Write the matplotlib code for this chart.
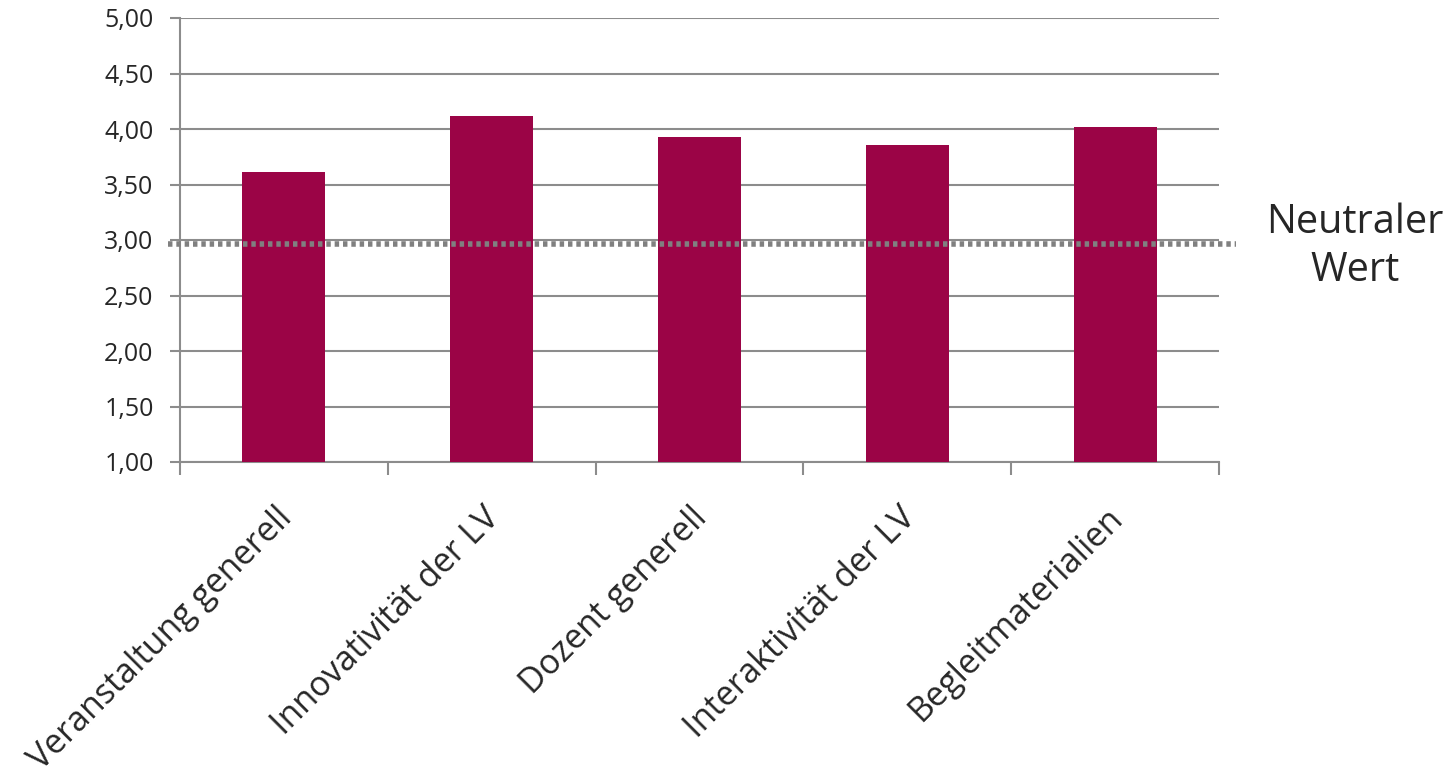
import matplotlib
matplotlib.use("Agg")
import matplotlib.pyplot as plt
import matplotlib.transforms as mtransforms
import numpy as np

categories = [
    "Veranstaltung generell",
    "Innovativität der LV",
    "Dozent generell",
    "Interaktivität der LV",
    "Begleitmaterialien",
]
values = [3.61, 4.12, 3.93, 3.86, 4.02]
neutral_value = 2.96
y_ticks = [1.0, 1.5, 2.0, 2.5, 3.0, 3.5, 4.0, 4.5, 5.0]

BAR_COLOR = "#9B0446"
GRID_COLOR = "#8C8C8C"
TEXT_COLOR = "#262626"

plt.rcParams["font.family"] = ["Open Sans", "DejaVu Sans"]

fig = plt.figure(figsize=(14.54, 7.74), dpi=100)
ax = fig.add_axes([180 / 1454, 1 - 462 / 774, (1219 - 180) / 1454, (462 - 18) / 774])

x = np.arange(len(categories))
ax.bar(x, values, width=0.4, color=BAR_COLOR, zorder=3)

ax.set_xlim(-0.5, len(categories) - 0.5)
ax.set_ylim(1.0, 5.0)

ax.set_yticks(y_ticks)
ax.set_yticklabels([f"{v:.2f}".replace(".", ",") for v in y_ticks],
                   fontsize=18, color=TEXT_COLOR)
ax.yaxis.grid(True, color=GRID_COLOR, linewidth=1.5, zorder=0)
ax.tick_params(axis="y", length=7, width=1.5, color=GRID_COLOR, pad=12)

# category boundary ticks, labels at the centers
ax.set_xticks(np.arange(-0.5, len(categories)), minor=False)
ax.set_xticklabels([])
ax.tick_params(axis="x", length=9, width=1.5, color=GRID_COLOR)
ax.set_xticks(x, minor=True)
ax.set_xticklabels(categories, minor=True, rotation=45, ha="right",
                   rotation_mode="anchor", fontsize=24.5, color=TEXT_COLOR)
ax.tick_params(axis="x", which="minor", length=0, pad=28)
shift = mtransforms.ScaledTranslation(-0.09, 0, fig.dpi_scale_trans)
for lbl in ax.get_xticklabels(minor=True):
    lbl.set_transform(lbl.get_transform() + shift)

for side in ["top", "right"]:
    ax.spines[side].set_visible(False)
ax.spines["left"].set_color(GRID_COLOR)
ax.spines["left"].set_linewidth(1.5)
ax.spines["bottom"].set_color(GRID_COLOR)
ax.spines["bottom"].set_linewidth(1.5)

# neutral value line, runs a bit past the plot area
ax.plot([-0.56, 4.58], [neutral_value, neutral_value], color="#808080",
        linewidth=4, linestyle=(0, (0.8, 0.7)), zorder=4, clip_on=False)
ax.text(5.155, neutral_value - 0.02, "Neutraler\nWert", ha="center", va="center",
        fontsize=28.5, color=TEXT_COLOR, linespacing=1.25)

fig.savefig("out.png", dpi=100, facecolor="white")
